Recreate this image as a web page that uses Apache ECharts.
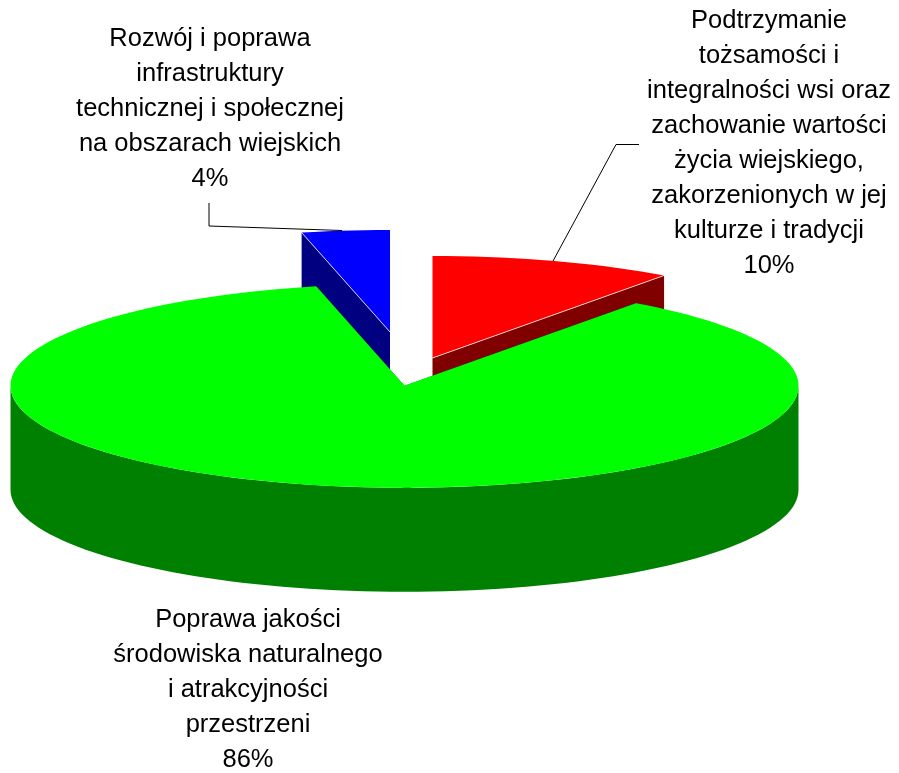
<!DOCTYPE html>
<html>
<head>
<meta charset="utf-8">
<title>Struktura wydatków</title>
<script src="https://cdn.jsdelivr.net/npm/echarts@6/dist/echarts.min.js"></script>
<style>
  html, body { margin: 0; padding: 0; background: #fff; }
  #chart { width: 899px; height: 773px; }
</style>
</head>
<body>
<div id="chart"></div>
<script>
// slices clockwise from 12 o'clock
var names = [
  'Podtrzymanie\ntożsamości i\nintegralności wsi oraz\nzachowanie wartości\nżycia wiejskiego,\nzakorzenionych w jej\nkulturze i tradycji',
  'Poprawa jakości\nśrodowiska naturalnego\ni atrakcyjności\nprzestrzeni',
  'Rozwój i poprawa\ninfrastruktury\ntechnicznej i społecznej\nna obszarach wiejskich'
]
var values = [10, 86.4, 3.6]
var topColors = ['#ff0000', '#00ff00', '#0000ff']
var sideColors = ['#800000', '#008000', '#000080']

// layout of the fake 3d pie
var rx = 394
var ry = 102
var depth = 104
var centers = [[432.5, 358], [404.5, 385.7], [390, 332]]
var drawOrder = [1, 2, 0] // blue goes behind red, green goes last
var labelPos = [[769, 21], [248, 619.5], [210, 38.5]]
var leaders = [
  [[639, 144.5], [616, 144.5], [553, 261]],
  null,
  [[209, 203], [209, 226], [342, 230.5]]
]

var total = values.reduce(function (a, b) { return a + b }, 0)
var starts = []
values.reduce(function (sum, v, i) {
  starts[i] = sum / total * 360
  return sum + v
}, 0)

function pt (c, deg, dy) {
  var r = deg * Math.PI / 180
  return [c[0] + rx * Math.sin(r), c[1] - ry * Math.cos(r) + (dy || 0)]
}

function arc (c, from, to, dy) {
  var pts = []
  var n = Math.max(2, Math.ceil(Math.abs(to - from) / 2))
  for (var i = 0; i <= n; i++) {
    pts.push(pt(c, from + (to - from) * i / n, dy))
  }
  return pts
}

function poly (points, color, z2) {
  return { type: 'polygon', z2: z2, shape: { points: points }, style: { fill: color } }
}

function renderSlice (params, api) {
  var i = params.dataIndex
  var a0 = starts[i]
  var a1 = a0 + api.value(0) / total * 360
  var c = centers[i]
  var base = drawOrder[i] * 10
  var low = [c[0], c[1] + depth]
  var children = []

  // cut faces
  ;[a0, a1].forEach(function (a) {
    children.push(poly([c, pt(c, a), pt(c, a, depth), low], sideColors[i], base))
  })
  // outer wall, only the front half shows
  var f0 = Math.max(a0, 90)
  var f1 = Math.min(a1, 270)
  if (f1 > f0) {
    children.push(poly(arc(c, f0, f1).concat(arc(c, f1, f0, depth)), sideColors[i], base + 1))
  }
  // top face
  children.push(poly([c].concat(arc(c, a0, a1)), topColors[i], base + 2))

  // thin light edge on the small slices
  if (i !== 1) {
    children.push({
      type: 'polyline',
      z2: base + 3,
      shape: { points: [c, pt(c, i === 0 ? a1 : a0)] },
      style: { stroke: 'rgba(255,255,255,0.75)', lineWidth: 1, fill: null }
    })
  }

  if (leaders[i]) {
    children.push({
      type: 'polyline',
      z2: 50,
      shape: { points: leaders[i] },
      style: { stroke: '#000', lineWidth: 1, fill: null }
    })
  }

  children.push({
    type: 'text',
    z2: 60,
    style: {
      text: names[i] + '\n' + Math.round(api.value(0)) + '%',
      x: labelPos[i][0],
      y: labelPos[i][1] - 17.5,
      align: 'center',
      verticalAlign: 'top',
      fontFamily: 'Liberation Sans',
      fontSize: 25.5,
      lineHeight: 35,
      fill: '#000'
    }
  })

  return { type: 'group', children: children }
}

var chart = echarts.init(document.getElementById('chart'))
chart.setOption({
  animation: false,
  backgroundColor: '#fff',
  series: [{
    type: 'custom',
    coordinateSystem: 'none',
    silent: true,
    renderItem: renderSlice,
    data: values.map(function (v) { return [v] })
  }]
})
</script>
</body>
</html>
